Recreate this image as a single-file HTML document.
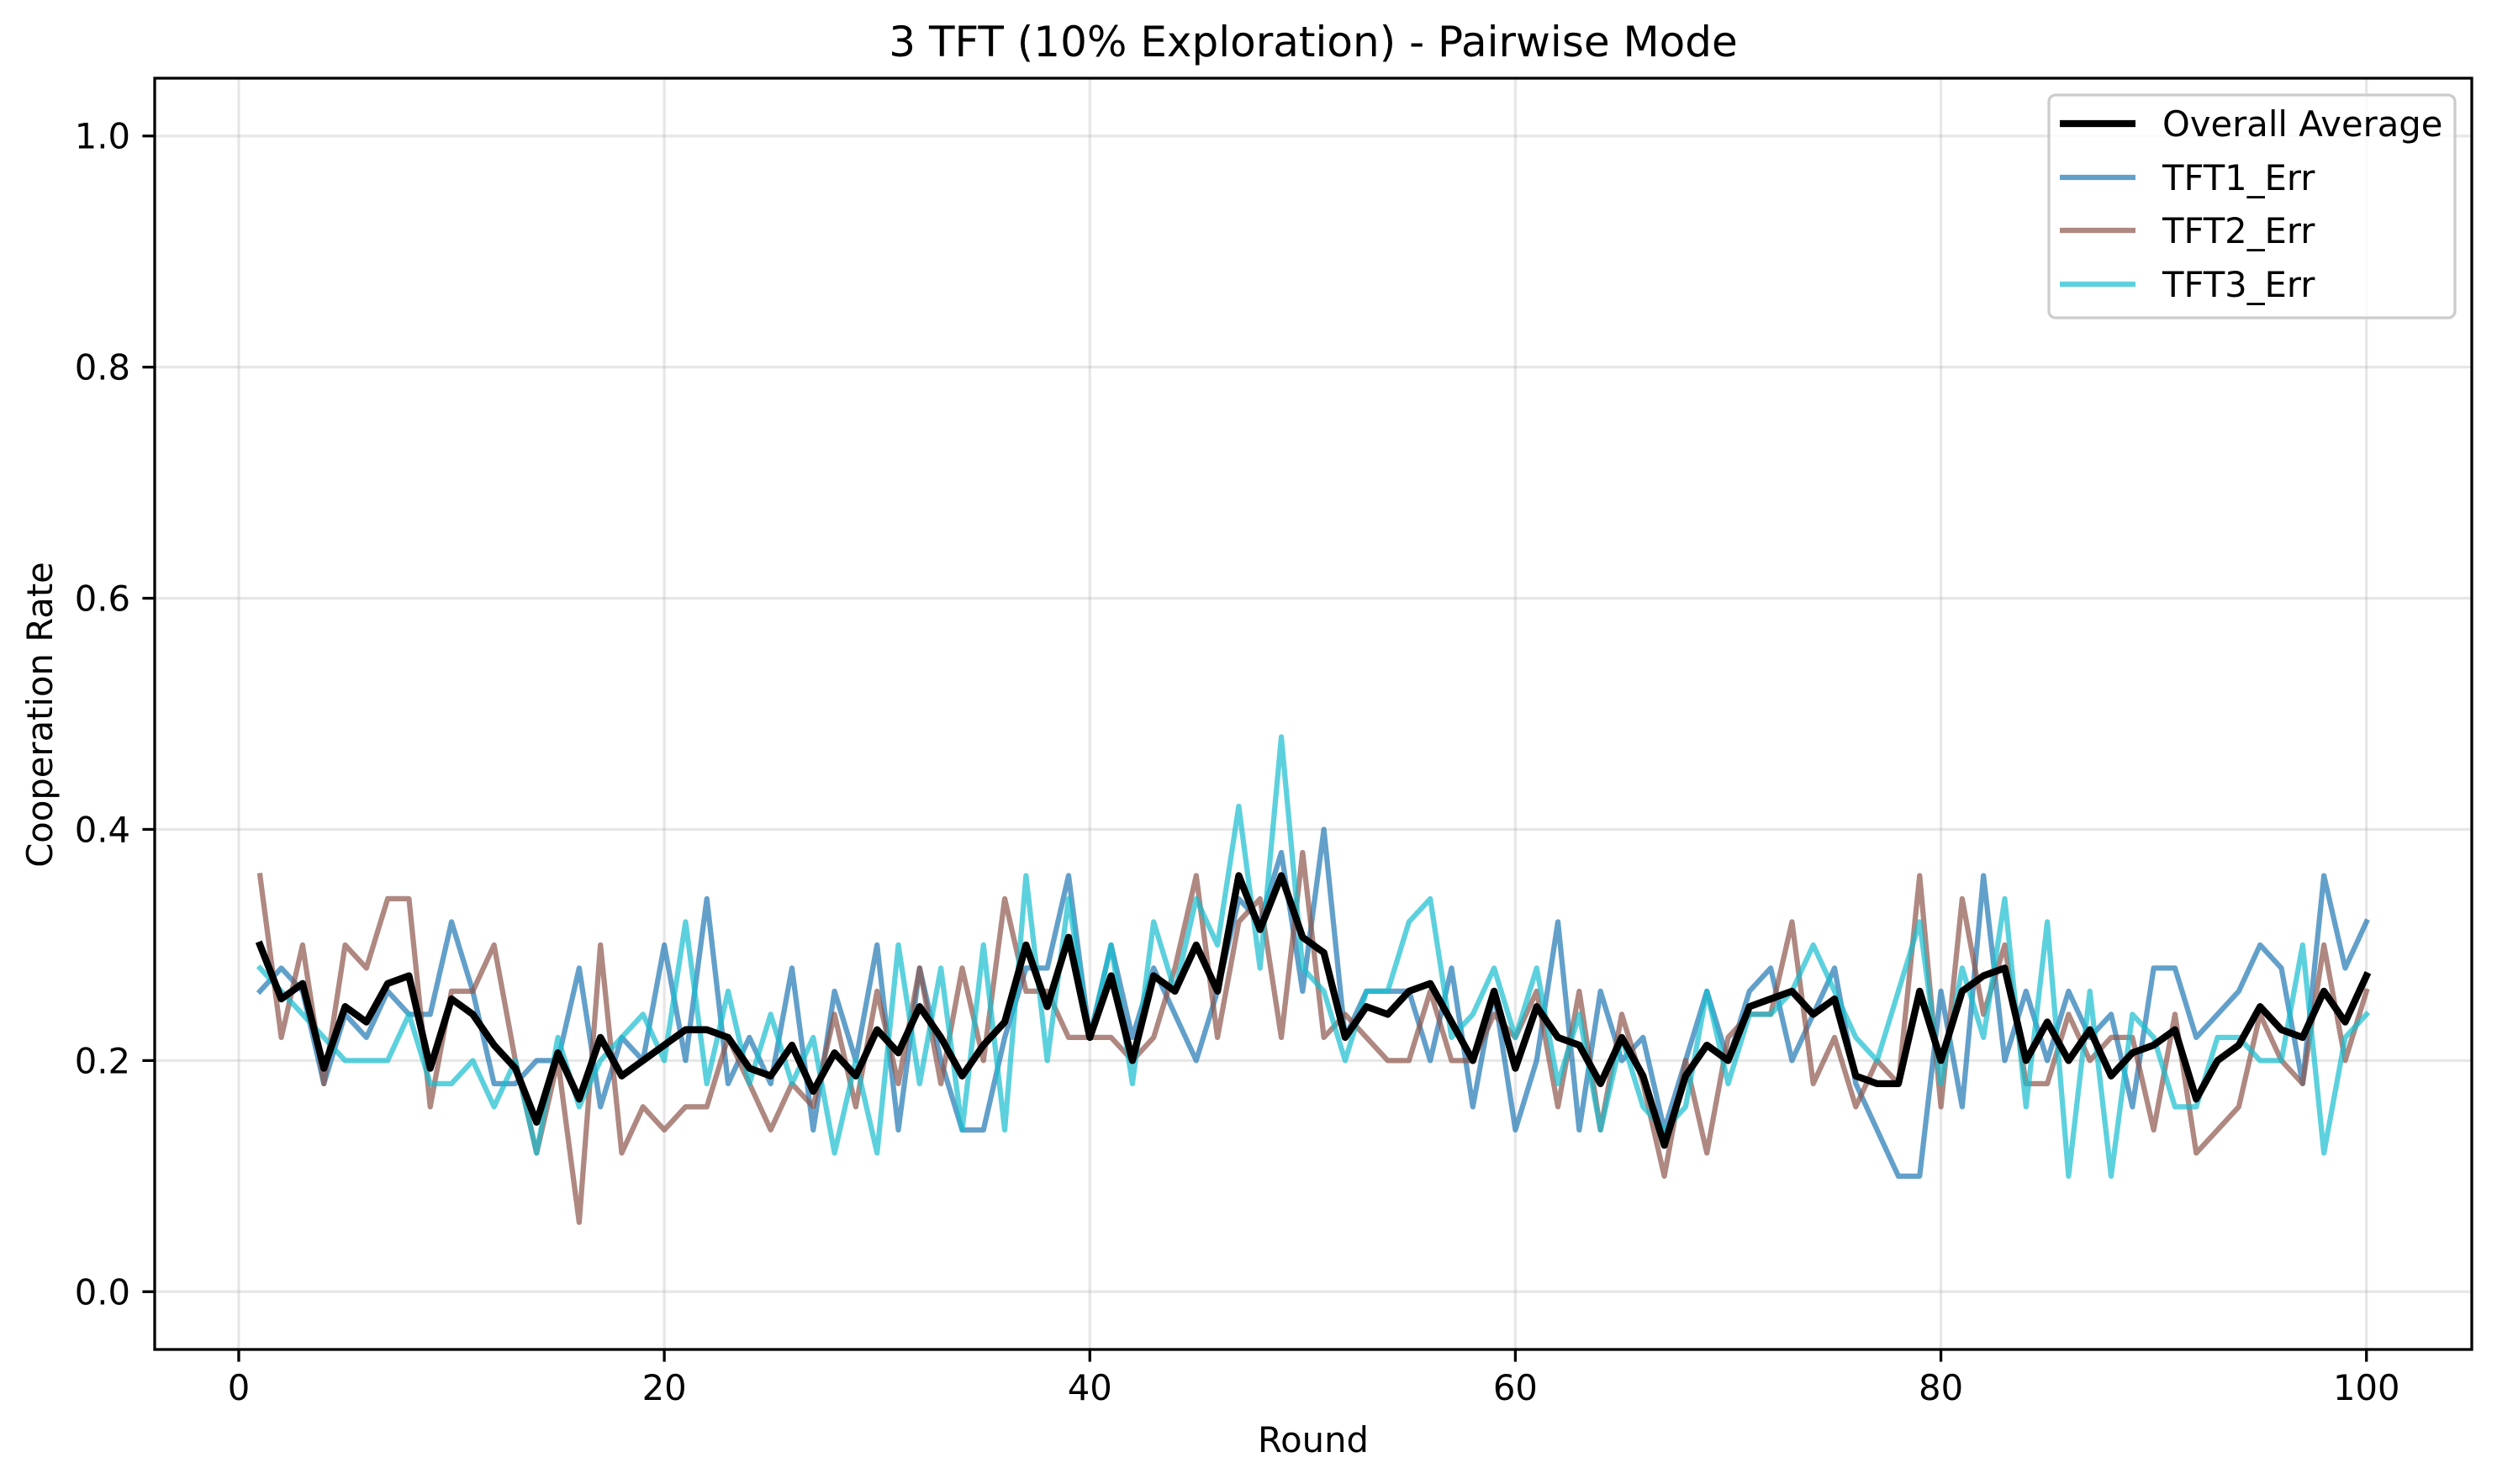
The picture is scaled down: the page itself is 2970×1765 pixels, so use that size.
<!DOCTYPE html>
<html>
<head>
<meta charset="utf-8">
<style>
html,body{margin:0;padding:0;background:#fff;}
svg{display:block;}
text{font-family:"DejaVu Sans","Liberation Sans",sans-serif;fill:#000;}
</style>
</head>
<body>
<svg id="chart" width="2970" height="1765" viewBox="0 0 2970 1765" xmlns="http://www.w3.org/2000/svg">
  <rect x="0" y="0" width="2970" height="1765" fill="#fff"/>
  <g id="grid"></g>
  <g id="series"></g>
  <g id="axes"></g>
  <text x="1562" y="67" font-size="50" text-anchor="middle">3 TFT (10% Exploration) - Pairwise Mode</text>
  <text x="1562" y="1727" font-size="41.7" text-anchor="middle">Round</text>
  <text x="62" y="850" font-size="41.7" text-anchor="middle" transform="rotate(-90 62 850)">Cooperation Rate</text>
  <g id="legend"></g>
</svg>
<script>
const xTicks = [0, 20, 40, 60, 80, 100];
const yTicks = [0.0, 0.2, 0.4, 0.6, 0.8, 1.0];
const yTickLabels = ["0.0", "0.2", "0.4", "0.6", "0.8", "1.0"];
const seriesNames = ["Overall Average", "TFT1_Err", "TFT2_Err", "TFT3_Err"];
const tft1 = [0.26,0.28,0.26,0.18,0.24,0.22,0.26,0.24,0.24,0.32, 0.26,0.18,0.18,0.20,0.20,0.28,0.16,0.22,0.20,0.30, 0.20,0.34,0.18,0.22,0.18,0.28,0.14,0.26,0.20,0.30, 0.14,0.28,0.20,0.14,0.14,0.22,0.28,0.28,0.36,0.22, 0.30,0.22,0.28,0.24,0.20,0.26,0.34,0.32,0.38,0.26, 0.40,0.22,0.26,0.26,0.26,0.20,0.28,0.16,0.26,0.14, 0.20,0.32,0.14,0.26,0.20,0.22,0.14,0.20,0.26,0.20, 0.26,0.28,0.20,0.24,0.28,0.18,0.14,0.10,0.10,0.26, 0.16,0.36,0.20,0.26,0.20,0.26,0.22,0.24,0.16,0.28, 0.28,0.22,0.24,0.26,0.30,0.28,0.18,0.36,0.28,0.32];
const tft2 = [0.36,0.22,0.30,0.18,0.30,0.28,0.34,0.34,0.16,0.26, 0.26,0.30,0.20,0.12,0.20,0.06,0.30,0.12,0.16,0.14, 0.16,0.16,0.22,0.18,0.14,0.18,0.16,0.24,0.16,0.26, 0.18,0.28,0.18,0.28,0.20,0.34,0.26,0.26,0.22,0.22, 0.22,0.20,0.22,0.28,0.36,0.22,0.32,0.34,0.22,0.38, 0.22,0.24,0.22,0.20,0.20,0.26,0.20,0.20,0.24,0.22, 0.26,0.16,0.26,0.14,0.24,0.18,0.10,0.20,0.12,0.22, 0.24,0.24,0.32,0.18,0.22,0.16,0.20,0.18,0.36,0.16, 0.34,0.24,0.30,0.18,0.18,0.24,0.20,0.22,0.22,0.14, 0.24,0.12,0.14,0.16,0.24,0.20,0.18,0.30,0.20,0.26];
const tft3 = [0.28,0.26,0.24,0.22,0.20,0.20,0.20,0.24,0.18,0.18, 0.20,0.16,0.20,0.12,0.22,0.16,0.20,0.22,0.24,0.20, 0.32,0.18,0.26,0.18,0.24,0.18,0.22,0.12,0.20,0.12, 0.30,0.18,0.28,0.14,0.30,0.14,0.36,0.20,0.34,0.22, 0.30,0.18,0.32,0.26,0.34,0.30,0.42,0.28,0.48,0.28, 0.26,0.20,0.26,0.26,0.32,0.34,0.22,0.24,0.28,0.22, 0.28,0.18,0.24,0.14,0.22,0.16,0.14,0.16,0.26,0.18, 0.24,0.24,0.26,0.30,0.26,0.22,0.20,0.26,0.32,0.18, 0.28,0.22,0.34,0.16,0.32,0.10,0.26,0.10,0.24,0.22, 0.16,0.16,0.22,0.22,0.20,0.20,0.30,0.12,0.22,0.24];

const NS = "http://www.w3.org/2000/svg";
const L = 184, R = 2940, T = 93, B = 1605;
const X0 = -3.95, X1 = 104.95, Y0 = -0.05, Y1 = 1.05;
function sx(v){ return L + (v - X0) / (X1 - X0) * (R - L); }
function sy(v){ return B - (v - Y0) / (Y1 - Y0) * (B - T); }
function mk(tag, attrs, parent){
  const e = document.createElementNS(NS, tag);
  for (const k in attrs) e.setAttribute(k, attrs[k]);
  parent.appendChild(e);
  return e;
}
const grid = document.getElementById('grid');
const axes = document.getElementById('axes');
const sg = document.getElementById('series');
const lg = document.getElementById('legend');

xTicks.forEach(t => {
  const g = mk('line', {x1: sx(t), x2: sx(t), y1: T, y2: B, stroke: '#b0b0b0', 'stroke-opacity': 0.3, 'stroke-width': 3.3}, grid);
  
  
  const tk = mk('line', {x1: sx(t), x2: sx(t), y1: B, y2: B + 14.6, stroke: '#000', 'stroke-width': 3.3}, axes);
  
  
  const lb = mk('text', {x: sx(t), y: B + 60, 'font-size': 41.7, 'text-anchor': 'middle'}, axes);
  lb.textContent = String(t);
  
  
});
yTicks.forEach((t, i) => {
  const g = mk('line', {x1: L, x2: R, y1: sy(t), y2: sy(t), stroke: '#b0b0b0', 'stroke-opacity': 0.3, 'stroke-width': 3.3}, grid);
  
  
  const tk = mk('line', {x1: L - 14.6, x2: L, y1: sy(t), y2: sy(t), stroke: '#000', 'stroke-width': 3.3}, axes);
  
  
  const lb = mk('text', {x: L - 29, y: sy(t) + 15, 'font-size': 41.7, 'text-anchor': 'end'}, axes);
  lb.textContent = yTickLabels[i];
  
  
});
const frame = mk('rect', {x: L, y: T, width: R - L, height: B - T, fill: 'none', stroke: '#000', 'stroke-width': 3.3}, axes);



function pathFor(arr){
  return arr.map((v, i) => (i ? 'L' : 'M') + sx(i + 1).toFixed(2) + ' ' + sy(v).toFixed(2)).join(' ');
}
const avg = tft1.map((v, i) => (v + tft2[i] + tft3[i]) / 3);
const specs = [
  {data: tft1, color: '#1f77b4', op: 0.7, w: 6.25, name: 'tft1-line'},
  {data: tft2, color: '#8c564b', op: 0.7, w: 6.25, name: 'tft2-line'},
  {data: tft3, color: '#17becf', op: 0.7, w: 6.25, name: 'tft3-line'},
  {data: avg, color: '#000000', op: 1, w: 8.3, name: 'overall-average-line'}
];
specs.forEach(s => {
  const p = mk('path', {d: pathFor(s.data), fill: 'none', stroke: s.color, 'stroke-opacity': s.op, 'stroke-width': s.w, 'stroke-linejoin': 'round', 'stroke-linecap': 'square'}, sg);
  
  
});

const box = mk('rect', {x: 2437, y: 113, width: 483, height: 265, rx: 8, fill: '#fff', 'fill-opacity': 0.8, stroke: '#cccccc', 'stroke-width': 3.3}, lg);


const legColors = ['#000000', '#1f77b4', '#8c564b', '#17becf'];
const legOps = [1, 0.7, 0.7, 0.7];
const legW = [8.3, 6.25, 6.25, 6.25];
const rowY = [147, 211, 274, 338];
seriesNames.forEach((n, i) => {
  const ln = mk('line', {x1: 2450, x2: 2540, y1: rowY[i], y2: rowY[i], stroke: legColors[i], 'stroke-opacity': legOps[i], 'stroke-width': legW[i]}, lg);
  
  
  const tx = mk('text', {x: 2572, y: rowY[i] + 15, 'font-size': 41.7}, lg);
  tx.textContent = n;
  
  
});
</script>
</body>
</html>
